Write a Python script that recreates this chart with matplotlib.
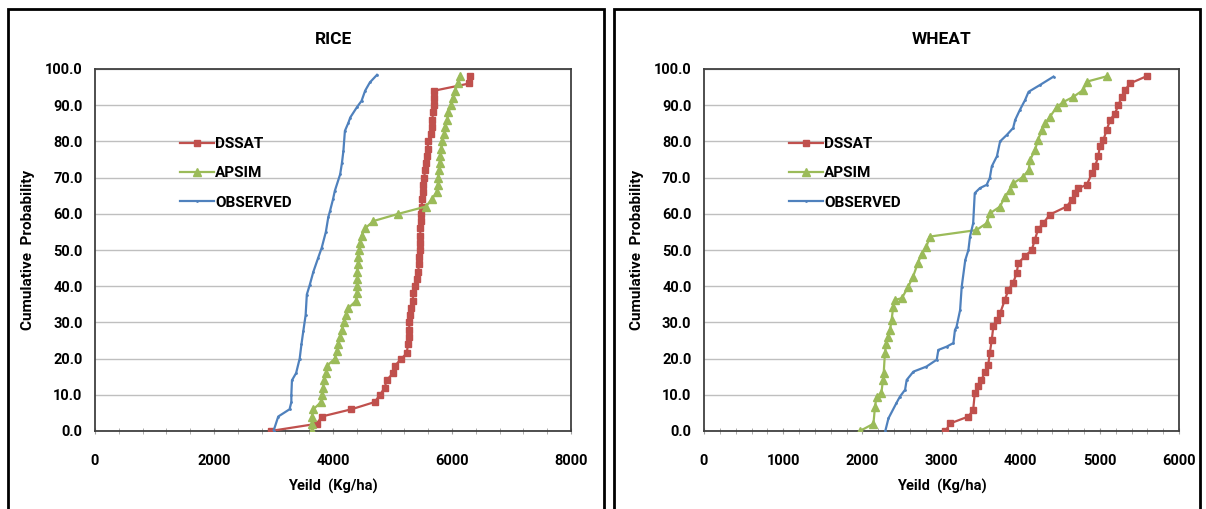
import matplotlib
matplotlib.use("Agg")
import matplotlib.pyplot as plt
from matplotlib.patches import Rectangle
from matplotlib.ticker import MultipleLocator, FormatStrFormatter

plt.rcParams['font.family'] = ['Roboto', 'DejaVu Sans']
plt.rcParams['font.weight'] = 'bold'

# ---- RICE readings (yield kg/ha, cumulative probability %) ----
rice_dssat_x = [2950, 3730, 3810, 4310, 4700, 4790, 4870, 4900, 5010, 5040, 5150, 5240,
                5260, 5270, 5280, 5285, 5290, 5310, 5340, 5350, 5380, 5410, 5430, 5445,
                5450, 5460, 5462, 5465, 5470, 5475, 5485, 5490, 5500, 5510, 5518, 5530,
                5550, 5565, 5575, 5590, 5600, 5650, 5660, 5670, 5680, 5690, 5695, 5700,
                6290, 6300]
rice_dssat_y = [0, 2, 4, 6, 8, 10, 12, 14, 16, 18, 20, 21.5,
                24, 26, 28, 30, 32, 34, 36, 38, 40, 42, 44, 46,
                48, 50, 52, 54, 56, 58, 60, 62, 64, 66, 68, 70,
                72, 74, 76, 78, 80, 82, 84, 86, 88, 90, 92, 94,
                96, 98]

rice_apsim_x = [3640, 3640, 3645, 3670, 3800, 3810, 3830, 3850, 3880, 3900, 4030, 4060,
                4090, 4120, 4150, 4180, 4220, 4260, 4390, 4400, 4400, 4405, 4410, 4415,
                4425, 4440, 4460, 4480, 4540, 4680, 5100, 5560, 5660, 5740, 5760, 5770,
                5780, 5790, 5800, 5820, 5840, 5870, 5890, 5920, 5940, 5980, 6010, 6050,
                6100, 6130]
rice_apsim_y = [0, 2, 4, 6, 8, 10, 12, 14, 16, 18, 20, 22,
                24, 26, 28, 30, 32, 34, 36, 38, 40, 42, 44, 46,
                48, 50, 52, 54, 56, 58, 60, 62, 64, 66, 68, 70,
                72, 74, 76, 78, 80, 82, 84, 86, 88, 90, 92, 94,
                96, 98]

rice_obs_x = [3000, 3080, 3270, 3300, 3300, 3310, 3380, 3440, 3470, 3500, 3540, 3560,
              3610, 3670, 3750, 3810, 3880, 3920, 3950, 4000, 4030, 4120, 4150, 4175,
              4200, 4260, 4290, 4400, 4480, 4540, 4620, 4740]
rice_obs_y = [0, 4, 6, 8, 10, 14, 16, 20, 24, 27.5, 32, 37.7,
              40.4, 44, 47.8, 50.6, 55, 59, 60.8, 64, 66.3, 70.9, 74, 77.4,
              82.9, 85.2, 86.6, 89.4, 91.2, 94, 96.3, 98.4]

# ---- WHEAT readings ----
wheat_dssat_x = [3050, 3110, 3340, 3400, 3420, 3465, 3505, 3550, 3590, 3610, 3635, 3655,
                 3700, 3740, 3800, 3845, 3905, 3950, 3970, 4055, 4140, 4180, 4220, 4285,
                 4370, 4580, 4645, 4685, 4730, 4835, 4900, 4940, 4980, 5000, 5045, 5085,
                 5130, 5190, 5235, 5275, 5320, 5380, 5590]
wheat_dssat_y = [0, 2.1, 4, 5.8, 10.4, 12.3, 14.1, 16.4, 18.2, 21.5, 25.2, 28.9,
                 30.7, 32.5, 36.2, 39, 40.9, 43.7, 46.4, 48.3, 50, 52.9, 55.7, 57.4,
                 59.8, 62, 63.8, 65.7, 67.1, 68, 71.2, 73.1, 75.9, 78.6, 80.4, 83.1,
                 85.9, 87.7, 90, 92.3, 94.2, 96, 98]

wheat_apsim_x = [1970, 2140, 2160, 2180, 2240, 2260, 2270, 2285, 2300, 2330, 2350, 2370,
                 2390, 2410, 2500, 2580, 2640, 2700, 2750, 2810, 2850, 3440, 3570, 3610,
                 3740, 3800, 3865, 3905, 4030, 4100, 4120, 4180, 4220, 4265, 4310, 4370,
                 4455, 4540, 4665, 4790, 4835, 5090]
wheat_apsim_y = [0, 2, 6.7, 9.5, 10.4, 14, 16, 21.5, 24, 26.1, 28, 30.7,
                 34.3, 36.2, 36.7, 39.9, 42.6, 46.3, 49, 50.9, 53.7, 55.5, 57.4, 60.1,
                 62, 64.7, 66.6, 68.4, 70.2, 72.1, 74.9, 77.6, 80.4, 83.1, 85, 86.8,
                 89.5, 90.9, 92.3, 94.2, 96.5, 98]

wheat_obs_x = [2290, 2330, 2430, 2475, 2540, 2560, 2645, 2810, 2940, 2960, 3065, 3150,
               3170, 3190, 3235, 3255, 3300, 3340, 3360, 3400, 3420, 3485, 3570, 3610,
               3635, 3700, 3740, 3825, 3905, 3930, 3990, 4055, 4100, 4245, 4415]
wheat_obs_y = [0, 3.5, 7.7, 9.5, 11.4, 14.1, 16.4, 17.8, 19.7, 22.4, 23.3, 24.3,
               27.9, 28.8, 33.4, 39.8, 47.2, 50, 53.7, 57.4, 65.7, 67.1, 68, 69.9,
               73.1, 75.9, 80, 81.8, 83.7, 85.9, 88.7, 91.4, 93.7, 95.6, 97.9]

panels = [
    ("RICE", 8000, 2000, 400,
     [rice_dssat_x, rice_apsim_x, rice_obs_x], [rice_dssat_y, rice_apsim_y, rice_obs_y]),
    ("WHEAT", 6000, 1000, 200,
     [wheat_dssat_x, wheat_apsim_x, wheat_obs_x], [wheat_dssat_y, wheat_apsim_y, wheat_obs_y]),
]
names = ["DSSAT", "APSIM", "OBSERVED"]
colors = ["#C0504D", "#9BBB59", "#4F81BD"]
markers = ["s", "^", "."]
msizes = [4.2, 5.5, 2]

W, H = 1206, 509
fig = plt.figure(figsize=(W / 100, H / 100), dpi=100)

# panel frames
for x0, x1 in [(8, 604), (614, 1200)]:
    fig.patches.append(Rectangle((x0 / W, -0.05), (x1 - x0) / W, 1.05 - 9 / H,
                                 transform=fig.transFigure, fill=False,
                                 edgecolor="black", linewidth=2))

ax_lefts = [95, 704]
ax_widths = [476, 475]
for k, (title, xmax, lab_step, tick_step, xs, ys) in enumerate(panels):
    ax = fig.add_axes([ax_lefts[k] / W, (H - 431) / H, ax_widths[k] / W, 362 / H])
    for i in range(3):
        ax.plot(xs[i], ys[i], color=colors[i], marker=markers[i], markersize=msizes[i],
                linewidth=1.6, label=names[i], zorder=3)
    ax.set_xlim(0, xmax)
    ax.set_ylim(0, 100)
    ax.yaxis.set_major_locator(MultipleLocator(10))
    ax.yaxis.set_major_formatter(FormatStrFormatter("%.1f"))
    ax.xaxis.set_major_locator(MultipleLocator(lab_step))
    ax.xaxis.set_minor_locator(MultipleLocator(tick_step))
    ax.grid(axis="y", color="#BFBFBF", linewidth=1)
    ax.set_axisbelow(True)
    for s in ax.spines.values():
        s.set_color("#404040")
        s.set_linewidth(1.3)
    ax.tick_params(axis="y", length=0, pad=9, labelsize=10.5)
    ax.tick_params(axis="x", which="both", direction="inout", length=5,
                   color="#A0A0A0", pad=14, labelsize=10.5)
    for lab in ax.get_xticklabels() + ax.get_yticklabels():
        lab.set_fontweight("bold")
    ax.set_title(title, fontsize=12.5, fontweight="bold", pad=18)
    ax.set_ylabel("Cumulative  Probability", fontsize=11, fontweight="bold", labelpad=7)
    ax.set_xlabel("Yeild  (Kg/ha)", fontsize=10.5, fontweight="bold", labelpad=8)
    ax.legend(loc="upper left", bbox_to_anchor=(0.15, 0.85), frameon=False,
              labelspacing=1.0, handlelength=2.2, handletextpad=0.1,
              prop={"weight": "bold", "size": 11})

fig.savefig("out.png", dpi=100)
